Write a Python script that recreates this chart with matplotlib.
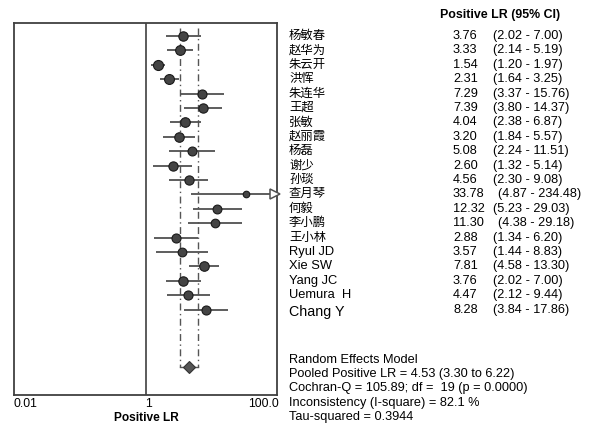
import numpy as np
import matplotlib
matplotlib.use("Agg")
import matplotlib.pyplot as plt
from matplotlib.transforms import blended_transform_factory

plt.rcParams['font.family'] = ['Liberation Sans', 'Noto Sans CJK SC', 'DejaVu Sans']

studies = ["杨敏春", "赵华为", "朱云开", "洪恽", "朱连华", "王超", "张敏", "赵丽霞", "杨磊",
           "谢少", "孙琰", "查月琴", "何毅", "李小鹏", "王小林", "Ryul JD", "Xie SW",
           "Yang JC", "Uemura  H", "Chang Y"]
lr = [3.76, 3.33, 1.54, 2.31, 7.29, 7.39, 4.04, 3.20, 5.08, 2.60, 4.56, 33.78, 12.32,
      11.30, 2.88, 3.57, 7.81, 3.76, 4.47, 8.28]
lo = [2.02, 2.14, 1.20, 1.64, 3.37, 3.80, 2.38, 1.84, 2.24, 1.32, 2.30, 4.87, 5.23,
      4.38, 1.34, 1.44, 4.58, 2.02, 2.12, 3.84]
hi = [7.00, 5.19, 1.97, 3.25, 15.76, 14.37, 6.87, 5.57, 11.51, 5.14, 9.08, 234.48, 29.03,
      29.18, 6.20, 8.83, 13.30, 7.00, 9.44, 17.86]
pooled, pooled_lo, pooled_hi = 4.53, 3.30, 6.22
tau2 = 0.3944
summary_lines = ["Random Effects Model",
                 "Pooled Positive LR = 4.53 (3.30 to 6.22)",
                 "Cochran-Q = 105.89; df =  19 (p = 0.0000)",
                 "Inconsistency (I-square) = 82.1 %",
                 "Tau-squared = 0.3944"]
xtick_vals = [0.01, 1, 100]
xtick_labels = ["0.01", "1", "100.0"]

W, H = 589, 423
fig = plt.figure(figsize=(W / 100, H / 100), dpi=100)
fx = lambda px: px / W
fy = lambda py: 1 - py / H

ax = fig.add_axes([fx(14), fy(395), fx(277) - fx(14), fy(23) - fy(395)])
ax.set_xscale('log')
ax.set_xlim(xtick_vals[0], xtick_vals[-1])
n = len(studies)
row_step = 14.4
ax.set_ylim((395 - 36) / row_step, (23 - 36) / row_step)
pool_y = (367 - 36) / row_step
top_y = (28 - 36) / row_step

for s in ax.spines.values():
    s.set_color('#404040')
    s.set_linewidth(1.3)
ax.set_xticks([])
ax.set_yticks([])
ax.minorticks_off()
ax.tick_params(which='both', length=0, labelbottom=False, labelleft=False)

ax.axvline(1, color='#404040', lw=1.2)

# dashed pooled CI lines
for v in (pooled_lo, pooled_hi):
    ax.plot([v, v], [top_y, pool_y], color='#555555', lw=1.0, ls=(0, (5, 2.5, 1, 2.5)))
ax.plot([pooled_lo, pooled_hi], [pool_y, pool_y], color='#555555', lw=1.0)

# weights for marker size
se = [(np.log(h) - np.log(l)) / 3.92 for l, h in zip(lo, hi)]
w = np.array([1 / (s ** 2 + tau2) for s in se])
diam_px = 10.0 * (w / w.max()) ** 0.35

xmax = ax.get_xlim()[1]
for i in range(n):
    right = min(hi[i], xmax)
    ax.plot([lo[i], right], [i, i], color='#505050', lw=1.3, solid_capstyle='butt', zorder=2)
    if hi[i] > xmax:
        ax.plot([xmax * 10 ** (-0.03)], [i], marker='>', ms=7.5, mfc='white', mec='#505050',
                mew=1.1, clip_on=False, zorder=4)
    ax.plot([lr[i]], [i], marker='o', ms=diam_px[i] / 1.389, mfc='#444444', mec='#1a1a1a',
            mew=0.8, zorder=3)

ax.plot([pooled], [pool_y], marker='D', ms=6.2, mfc='#555555', mec='#333333', mew=0.8, zorder=3)

# tick labels and axis label
fig.text(fx(14), fy(404), xtick_labels[0], ha='left', va='center', fontsize=8.8)
fig.text(fx(148), fy(404), xtick_labels[1], ha='center', va='center', fontsize=8.8)
fig.text(fx(279), fy(404), xtick_labels[2], ha='right', va='center', fontsize=8.8)
fig.text(fx(146), fy(418), "Positive LR", ha='center', va='center', fontsize=8.6, fontweight='bold')

# right-hand table
tr = blended_transform_factory(fig.transFigure, ax.transData)
fig.text(fx(440), fy(15), "Positive LR (95% CI)", ha='left', va='center', fontsize=8.9,
         fontweight='bold')
wide_rows = {11, 13}
for i in range(n):
    name = studies[i]
    is_latin = name.isascii()
    fs = 9.3 if is_latin else 8.9
    yy = i
    if name == "Chang Y":
        fs = 10.3
        yy = i + 0.2
    ax.text(fx(289), yy, name, transform=tr, ha='left', va='center', fontsize=fs, clip_on=False)
    ax.text(fx(453), i, f"{lr[i]:.2f}", transform=tr, ha='left', va='center', fontsize=9.2,
            clip_on=False)
    cx = 498 if i in wide_rows else 493
    ax.text(fx(cx), i, f"({lo[i]:.2f} - {hi[i]:.2f})", transform=tr, ha='left', va='center',
            fontsize=9.2, clip_on=False)

for k, line in enumerate(summary_lines):
    fig.text(fx(289), fy(360 + 14.2 * k), line, ha='left', va='center', fontsize=9.2)

fig.savefig("out.png", dpi=100, facecolor='white')
